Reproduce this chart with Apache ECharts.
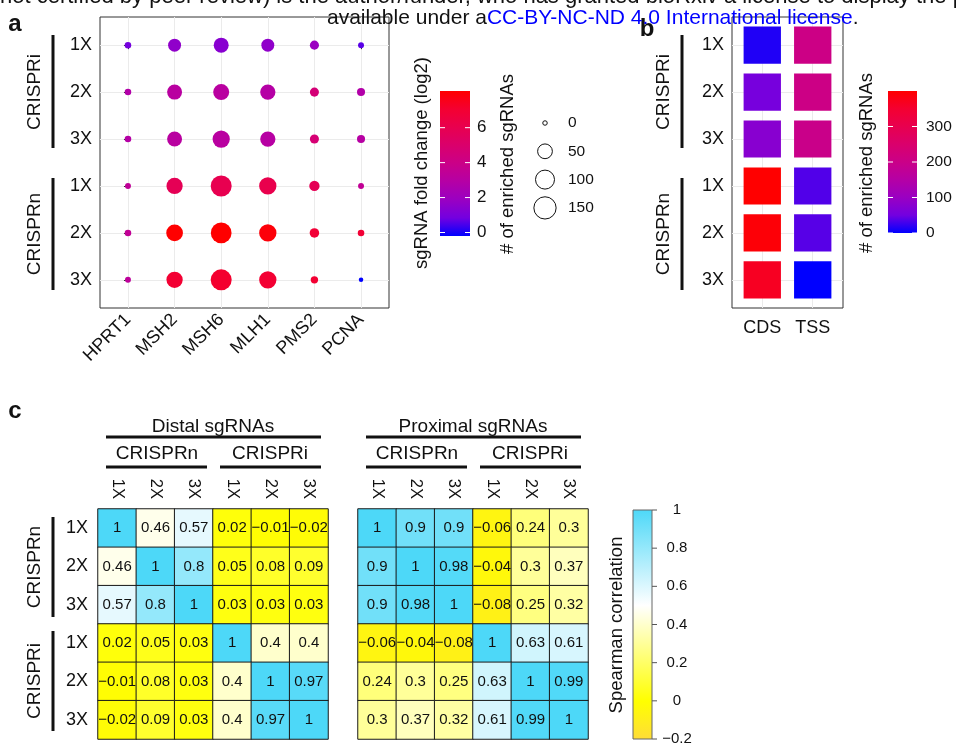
<!DOCTYPE html>
<html><head><meta charset="utf-8">
<script src="https://cdn.jsdelivr.net/npm/echarts@6/dist/echarts.min.js"></script>
<style>html,body{margin:0;padding:0;background:#fff}#c{width:956px;height:745px}</style>
</head><body><div id="c"></div>
<script>
// ---------- data ----------
const genes = ['HPRT1', 'MSH2', 'MSH6', 'MLH1', 'PMS2', 'PCNA'];
const rowLabels = ['1X', '2X', '3X', '1X', '2X', '3X'];
const groupsAB = ['CRISPRi', 'CRISPRn'];
// panel a: log2 fold change per row (CRISPRi 1X..3X, CRISPRn 1X..3X)
const foldI1 = [0.9, 1.6, 1.4, 1.6, 1.9, 0.6];
const foldI2 = [2.8, 3.1, 3.1, 2.9, 4.6, 2.8];
const foldI3 = [2.9, 3.1, 3.1, 3.0, 4.7, 3.0];
const foldN1 = [3.4, 5.8, 6.0, 6.1, 5.8, 3.5];
const foldN2 = [3.5, 8.1, 8.1, 7.9, 6.9, 6.9];
const foldN3 = [3.3, 7.0, 7.1, 7.0, 7.0, -0.2];
// panel a: # of enriched sgRNAs
const countI1 = [2, 34, 52, 34, 10, 1];
const countI2 = [2, 52, 63, 55, 10, 6];
const countI3 = [2, 52, 78, 55, 10, 6];
const countN1 = [1, 66, 129, 78, 16, 1];
const countN2 = [2, 71, 125, 78, 12, 2];
const countN3 = [1, 66, 129, 78, 4, 0];
const foldTicks = [0, 2, 4, 6];
const sizeLegend = [0, 50, 100, 150];
// panel b
const tileColumns = ['CDS', 'TSS'];
const tileCDS = [14, 55, 77, 400, 393, 365];
const tileTSS = [205, 205, 198, 35, 38, 0];
const tileTicks = [0, 100, 200, 300];
// panel c
const corrLabels = ['1X', '2X', '3X', '1X', '2X', '3X'];
const groupsC = ['CRISPRn', 'CRISPRi'];
const distalCorr = [
  [1, 0.46, 0.57, 0.02, -0.01, -0.02],
  [0.46, 1, 0.8, 0.05, 0.08, 0.09],
  [0.57, 0.8, 1, 0.03, 0.03, 0.03],
  [0.02, 0.05, 0.03, 1, 0.4, 0.4],
  [-0.01, 0.08, 0.03, 0.4, 1, 0.97],
  [-0.02, 0.09, 0.03, 0.4, 0.97, 1]
];
const proximalCorr = [
  [1, 0.9, 0.9, -0.06, 0.24, 0.3],
  [0.9, 1, 0.98, -0.04, 0.3, 0.37],
  [0.9, 0.98, 1, -0.08, 0.25, 0.32],
  [-0.06, -0.04, -0.08, 1, 0.63, 0.61],
  [0.24, 0.3, 0.25, 0.63, 1, 0.99],
  [0.3, 0.37, 0.32, 0.61, 0.99, 1]
];
const corrTicks = [1, 0.8, 0.6, 0.4, 0.2, 0, -0.2];

// ---------- styling ----------
const FONT = '"Liberation Sans", Arial, sans-serif';
const INK = '#111';
const blueRed = ['#0000FF', '#7300E0', '#9A00C2', '#B500A5', '#CA0088', '#DA006C', '#E8004F', '#F40031', '#FF0000'];
const corrColors = ['#FFDC38', '#FFEE1C', '#FFFF00', '#FFFF33', '#FFFF66', '#FFFF99', '#FFFFCC', '#FFFFFF',
                    '#DBF7FE', '#B8EFFC', '#94E8FB', '#71E0F9', '#4DD8F8'];
const foldRange = [-0.2, 8.1], tileRange = [0, 400], corrRange = [-0.2, 1];
const dotSize = n => 4.5 + 1.45 * Math.sqrt(n);
const fmt = v => (v < 0 ? '\u2212' + String(-v) : String(v));

const foldRows = [foldI1, foldI2, foldI3, foldN1, foldN2, foldN3];
const countRows = [countI1, countI2, countI3, countN1, countN2, countN3];
const dotData = [];
foldRows.forEach((row, r) => row.forEach((f, c) => dotData.push([c, r, f, countRows[r][c]])));
const tileData = [];
tileCDS.forEach((v, r) => tileData.push([0, r, v]));
tileTSS.forEach((v, r) => tileData.push([1, r, v]));
const heat = m => { const d = []; m.forEach((row, i) => row.forEach((v, j) => d.push([j, i, v]))); return d; };
const idx = a => a.map((_, i) => i);

// ---------- graphic helpers ----------
const G = [];
function T(x, y, s, o = {}) {
  G.push({ type: 'text', x, y, rotation: o.rot || 0, z: o.z || 10,
    style: { text: s, fontSize: o.size || 17, fontFamily: FONT, fontWeight: o.weight || 'normal',
      fill: o.fill || INK, align: o.align || 'center', verticalAlign: o.va || 'middle', rich: o.rich } });
}
function L(x1, y1, x2, y2, w, c) {
  G.push({ type: 'line', z: 10, shape: { x1, y1, x2, y2 }, style: { stroke: c || INK, lineWidth: w || 3 } });
}
function gradient(colors) {
  return new echarts.graphic.LinearGradient(0, 1, 0, 0,
    colors.map((c, i) => ({ offset: i / (colors.length - 1), color: c })));
}
function colorbar(x, y, w, h, colors, range, ticks, labelX, labelAlign, tickStyle, labelSize, border) {
  G.push({ type: 'rect', z: 5, shape: { x, y, width: w, height: h },
    style: { fill: gradient(colors), stroke: border || null, lineWidth: border ? 1 : 0 } });
  ticks.forEach(t => {
    const ty = y + h - (t - range[0]) / (range[1] - range[0]) * h;
    if (tickStyle === 'white') {
      L(x, ty, x + 5, ty, 1, '#fff'); L(x + w - 5, ty, x + w, ty, 1, '#fff');
    } else {
      L(x + w, ty, x + w + 5, ty, 1, '#555');
    }
    T(labelX, ty, fmt(t), { size: labelSize, align: labelAlign });
  });
}

// panel letters
T(15, 24, 'a', { size: 24, weight: 'bold' });
T(647, 29, 'b', { size: 24, weight: 'bold' });
T(15, 411, 'c', { size: 24, weight: 'bold' });

// header text from the preprint page
T(0, -3, 'not certified by peer review) is the author/funder, who has granted bioRxiv a license to display the preprint in perpetuity.',
  { size: 22, align: 'left', z: 50 });
T(327, 18, 'available under a{b|CC-BY-NC-ND 4.0 International license}.',
  { size: 21, align: 'left', z: 50, rich: { b: { fill: '#0000FF', fontSize: 21, fontFamily: FONT } } });

// group brackets panel a & b
[[53, 35], [682, 664]].forEach(([bx, lx]) => {
  L(bx, 35, bx, 148); L(bx, 178, bx, 290);
  T(lx, 92, groupsAB[0], { rot: Math.PI / 2, size: 19 });
  T(lx, 234, groupsAB[1], { rot: Math.PI / 2, size: 19 });
});
// panel a legends
T(422, 163, 'sgRNA fold change (log2)', { rot: Math.PI / 2, size: 18.5 });
colorbar(440, 91, 30, 145, blueRed, foldRange, foldTicks, 477, 'left', 'white', 17);
T(508, 164, '# of enriched sgRNAs', { rot: Math.PI / 2, size: 18.5 });
sizeLegend.forEach((n, i) => {
  const cy = 123 + i * 28.3;
  G.push({ type: 'circle', z: 10, shape: { cx: 545, cy, r: dotSize(n) / 2 }, style: { fill: '#fff', stroke: INK, lineWidth: 1 } });
  T(568, cy, String(n), { size: 15.5, align: 'left' });
});
// panel b legend
T(867, 163, '# of enriched sgRNAs', { rot: Math.PI / 2, size: 18.5 });
colorbar(888, 91, 29, 142, blueRed, tileRange, tileTicks, 926, 'left', 'white', 15.5);

// panel c headers
[[98, 'Distal sgRNAs'], [358, 'Proximal sgRNAs']].forEach(([gx, title]) => {
  T(gx + 115, 427, title, { size: 19 });
  L(gx + 8, 437, gx + 223, 437);
  T(gx + 59, 454, groupsC[0], { size: 19 });
  T(gx + 172, 454, groupsC[1], { size: 19 });
  L(gx + 8, 467, gx + 109, 467);
  L(gx + 122, 467, gx + 223, 467);
});
L(53, 517, 53, 617); L(53, 631, 53, 731);
T(35, 567, groupsC[0], { rot: Math.PI / 2, size: 19 });
T(35, 681, groupsC[1], { rot: Math.PI / 2, size: 19 });
T(617, 625, 'Spearman correlation', { rot: Math.PI / 2, size: 18.5 });
colorbar(633, 510, 19, 229, corrColors, corrRange, corrTicks, 677, 'center', 'dark', 15, '#666');

// ---------- chart ----------
const axisText = { color: INK, fontSize: 18, fontFamily: FONT };
const valAxis = (gi, labels, extra) => Object.assign({
  type: 'value', gridIndex: gi, min: -0.6, max: labels.length - 0.4,
  axisLine: { show: false },
  axisTick: { show: true, customValues: idx(labels), length: 4, lineStyle: { color: '#333' } },
  axisLabel: Object.assign({ customValues: idx(labels), formatter: v => labels[Math.round(v)] }, axisText),
  splitLine: { show: true, lineStyle: { color: '#EBEBEB', width: 1 } }
}, extra || {});

const catAxis = (gi, extra) => Object.assign({
  type: 'category', gridIndex: gi, data: corrLabels,
  axisLine: { show: false }, axisTick: { show: false }, splitLine: { show: false }
}, extra);

const heatSeries = (gi, m) => ({
  type: 'heatmap', xAxisIndex: gi, yAxisIndex: gi, data: heat(m),
  label: { show: true, color: INK, fontSize: 15, fontFamily: FONT, formatter: p => fmt(p.value[2]) },
  itemStyle: { borderColor: '#1a1a1a', borderWidth: 1 },
  emphasis: { disabled: true }
});

const chart = echarts.init(document.getElementById('c'), null, { renderer: 'canvas' });
chart.setOption({
  animation: false,
  backgroundColor: '#fff',
  grid: [
    { left: 100, top: 17, width: 289, height: 291, show: true, borderColor: '#333', borderWidth: 1, backgroundColor: '#fff' },
    { left: 732, top: 17, width: 111, height: 291, show: true, borderColor: '#333', borderWidth: 1, backgroundColor: '#fff' },
    { left: 98, top: 509, width: 230, height: 230 },
    { left: 358, top: 509, width: 230, height: 230 }
  ],
  xAxis: [
    valAxis(0, genes, { axisLabel: Object.assign({ customValues: idx(genes), formatter: v => genes[Math.round(v)], rotate: 45, margin: 9 }, axisText) }),
    valAxis(1, tileColumns, { axisLabel: Object.assign({ customValues: idx(tileColumns), formatter: v => tileColumns[Math.round(v)], margin: 11 }, axisText) }),
    catAxis(2, { position: 'top', axisLabel: Object.assign({ rotate: 90, margin: 10 }, axisText, { fontSize: 16.5 }) }),
    catAxis(3, { position: 'top', axisLabel: Object.assign({ rotate: 90, margin: 10 }, axisText, { fontSize: 16.5 }) })
  ],
  yAxis: [
    valAxis(0, rowLabels, { inverse: true }),
    valAxis(1, rowLabels, { inverse: true }),
    catAxis(2, { inverse: true, axisLabel: Object.assign({ margin: 10 }, axisText) }),
    catAxis(3, { inverse: true, axisLabel: { show: false } })
  ],
  visualMap: [
    { type: 'continuous', show: false, seriesIndex: 0, dimension: 2, min: foldRange[0], max: foldRange[1], inRange: { color: blueRed } },
    { type: 'continuous', show: false, seriesIndex: 1, dimension: 2, min: tileRange[0], max: tileRange[1], inRange: { color: blueRed } },
    { type: 'continuous', show: false, seriesIndex: [2, 3], dimension: 2, min: corrRange[0], max: corrRange[1], inRange: { color: corrColors } }
  ],
  series: [
    { type: 'scatter', xAxisIndex: 0, yAxisIndex: 0, data: dotData,
      symbolSize: v => dotSize(v[3]), itemStyle: { opacity: 1 }, emphasis: { disabled: true } },
    { type: 'custom', xAxisIndex: 1, yAxisIndex: 1, data: tileData,
      encode: { x: 0, y: 1 },
      renderItem: (params, api) => {
        const c = api.coord([api.value(0), api.value(1)]);
        const s = api.size([1, 1]);
        const w = s[0] * 0.74, h = s[1] * 0.79;
        return { type: 'rect', shape: { x: c[0] - w / 2, y: c[1] - h / 2, width: w, height: h }, style: { fill: api.visual('color') } };
      } },
    heatSeries(2, distalCorr),
    heatSeries(3, proximalCorr)
  ],
  graphic: G
});
</script></body></html>
